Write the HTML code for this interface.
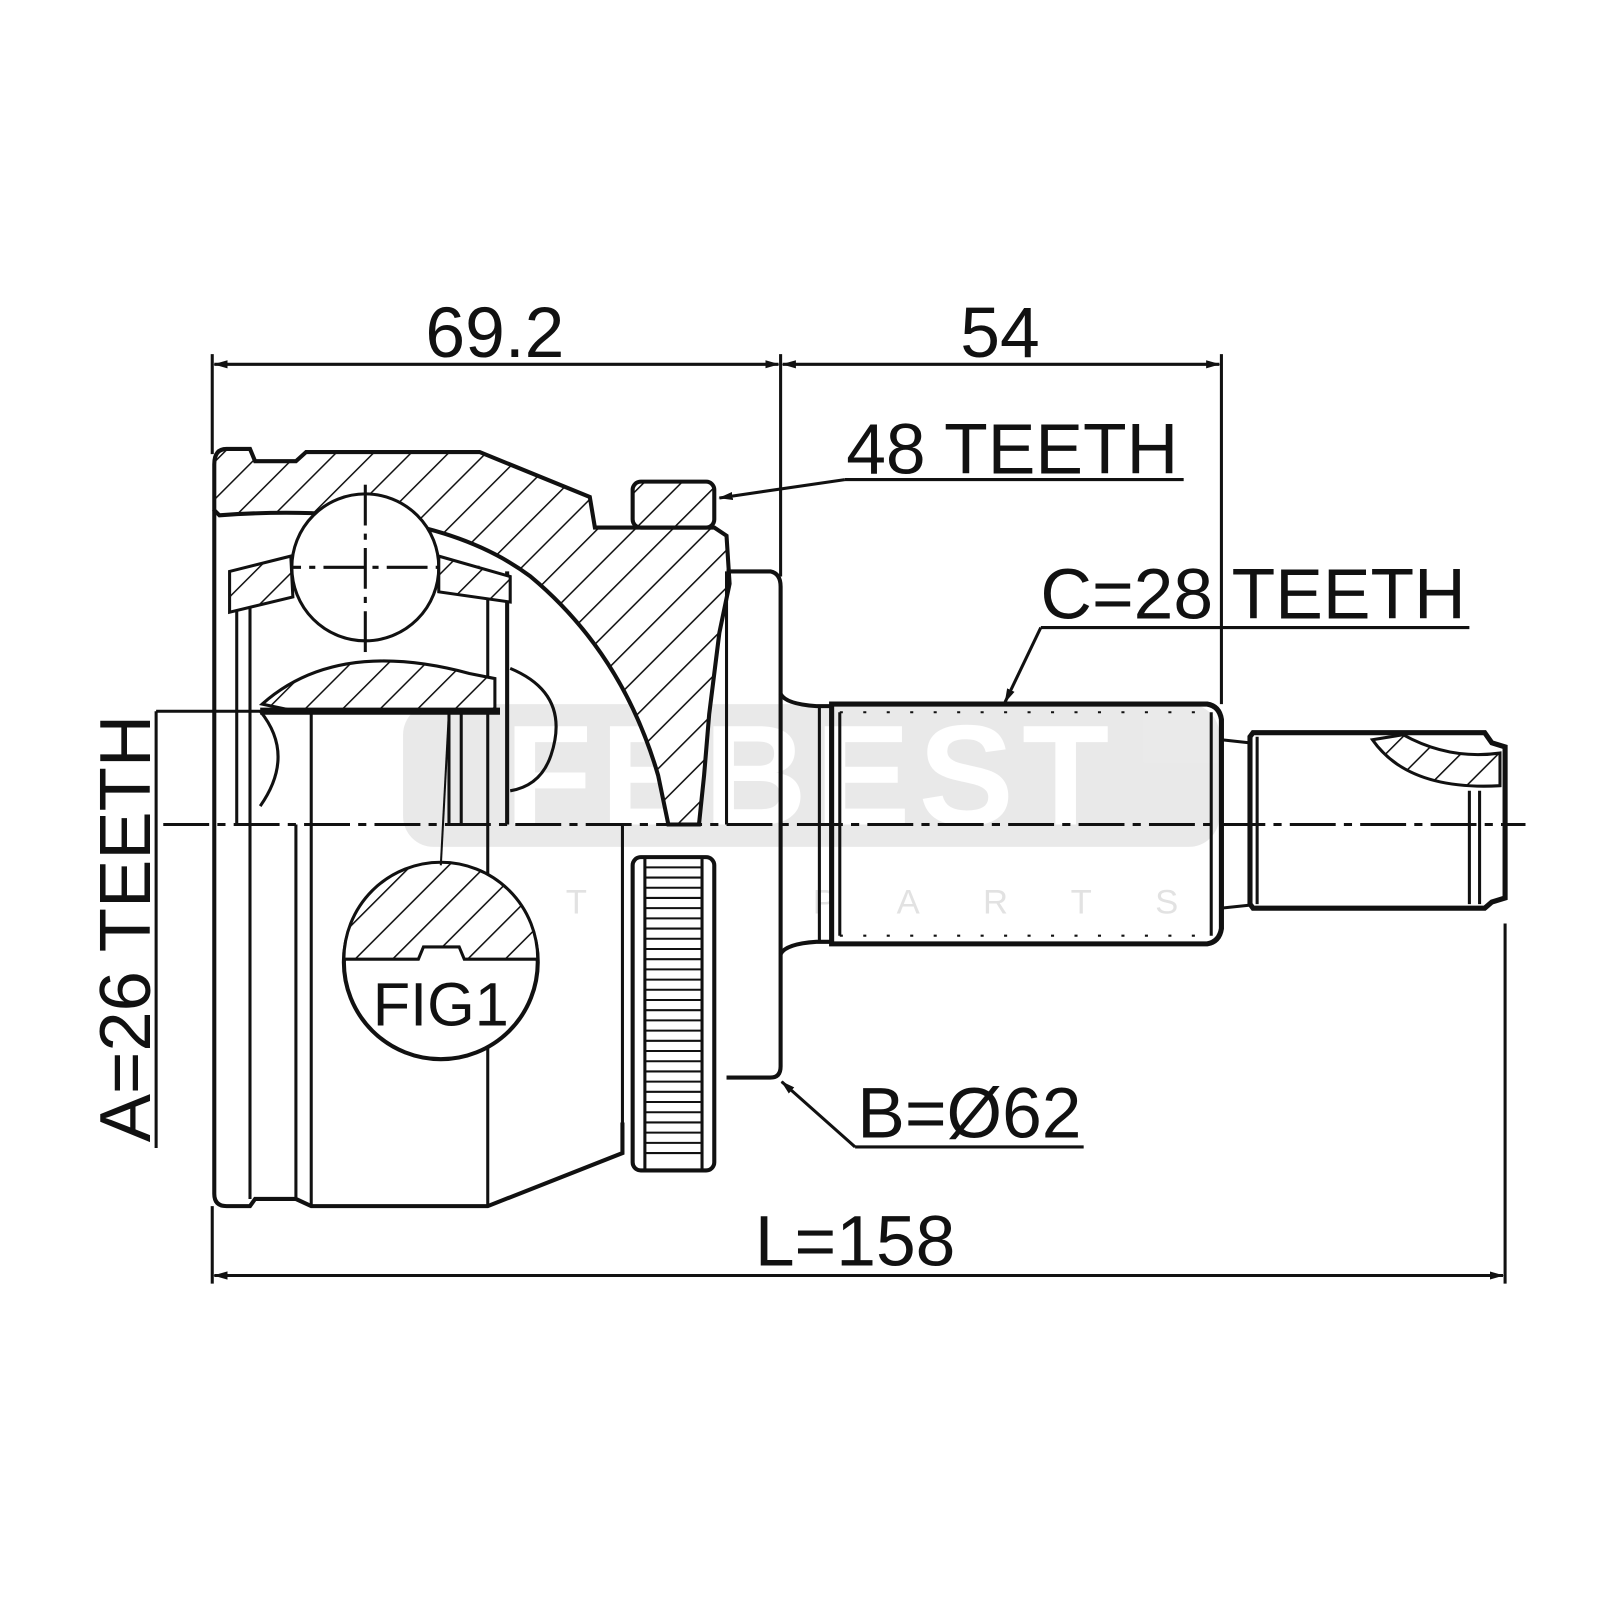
<!DOCTYPE html>
<html><head><meta charset="utf-8"><style>
html,body{margin:0;padding:0;background:#fff;}
svg{display:block;}
text{font-family:"Liberation Sans",Arial,sans-serif;fill:#111;}
</style></head><body>
<svg width="1600" height="1600" viewBox="0 0 1600 1600" xmlns="http://www.w3.org/2000/svg">
<defs>
<pattern id="h" patternUnits="userSpaceOnUse" width="26" height="26" patternTransform="rotate(45)">
<rect width="26" height="26" fill="#fff"/><line x1="0" y1="0" x2="0" y2="26" stroke="#111" stroke-width="3"/>
</pattern>
<marker id="a" markerWidth="14" markerHeight="10" refX="13" refY="5" orient="auto" markerUnits="userSpaceOnUse">
<path d="M0,1 L14,5 L0,9 Z" fill="#111"/></marker>
<marker id="as" markerWidth="14" markerHeight="10" refX="1" refY="5" orient="auto" markerUnits="userSpaceOnUse">
<path d="M14,1 L0,5 L14,9 Z" fill="#111"/></marker>
</defs>
<g transform="scale(1.0204)">
<!-- watermark -->
<g opacity="0.55">
<rect x="395" y="690" width="800" height="140" rx="30" fill="#d8d8d8"/>
<text x="795" y="808" font-size="140" font-weight="bold" text-anchor="middle" style="fill:#fff" letter-spacing="8">FEBEST</text>
<text x="800" y="895" font-size="34" text-anchor="middle" style="fill:#ccc" letter-spacing="62">AUTO PARTS</text>
</g>

<g stroke="#111" fill="none" stroke-width="3">
<line x1="208" y1="347" x2="208" y2="445"/>
<line x1="765" y1="347" x2="765" y2="565"/>
<line x1="1197" y1="347" x2="1197" y2="690"/>
<line x1="210" y1="357" x2="763" y2="357" marker-start="url(#as)" marker-end="url(#a)"/>
<line x1="767" y1="357" x2="1195" y2="357" marker-start="url(#as)" marker-end="url(#a)"/>
<line x1="208" y1="1182" x2="208" y2="1258"/>
<line x1="1475" y1="905" x2="1475" y2="1258"/>
<line x1="210" y1="1250" x2="1473" y2="1250" marker-start="url(#as)" marker-end="url(#a)"/>
<line x1="828" y1="470" x2="1160" y2="470"/>
<line x1="828" y1="470" x2="705" y2="488" marker-end="url(#a)"/>
<line x1="1020" y1="615" x2="1440" y2="615"/>
<line x1="1020" y1="615" x2="985" y2="688" marker-end="url(#a)"/>
<line x1="838" y1="1124" x2="1062" y2="1124"/>
<line x1="838" y1="1124" x2="766" y2="1060" marker-end="url(#a)"/>
<line x1="153" y1="697" x2="153" y2="1125"/>
<line x1="153" y1="697" x2="440" y2="697"/>

<path d="M210,500 L210,455 Q210,440 222,440 L245,440 L250,452 L290,452 L300,443 L470,443 L578,487 L583,517 L700,517 L712,525 L715,572 L705,620 L695,700 L690,760 L685,808 L655,808 L645,760 Q610,640 520,565 Q420,490 215,505 Z" fill="url(#h)" stroke-width="4"/>
<rect x="620" y="472" width="80" height="45" rx="8" fill="url(#h)" stroke-width="4"/>
<path d="M712,560 L755,560 Q765,562 765,575 L765,1045 Q765,1056 755,1056 L712,1056" stroke-width="4"/>
<line x1="712" y1="560" x2="712" y2="808"/>
<path d="M210,500 L210,1170 Q210,1182 222,1182 L245,1182 L250,1175 L290,1175 L305,1182 L478,1182 L610,1130 L610,1100" stroke-width="4"/>
<line x1="232" y1="590" x2="232" y2="808"/>
<line x1="245" y1="590" x2="245" y2="808"/>
<line x1="245" y1="808" x2="245" y2="1175"/>
<line x1="290" y1="808" x2="290" y2="1175"/>
<line x1="305" y1="697" x2="305" y2="1182"/>
<line x1="478" y1="697" x2="478" y2="1182"/>
<line x1="478" y1="560" x2="478" y2="697"/>
<line x1="497" y1="560" x2="497" y2="808" stroke-width="4"/>
<line x1="440" y1="697" x2="440" y2="808"/>
<line x1="452" y1="697" x2="452" y2="808"/>
<line x1="610" y1="808" x2="610" y2="1100"/>
<circle cx="358" cy="556" r="72" fill="#fff"/>
<line x1="358" y1="475" x2="358" y2="640" stroke-dasharray="40,8,6,8"/>
<line x1="255" y1="556" x2="470" y2="556" stroke-dasharray="40,8,6,8"/>
<path d="M225,560 L285,545 L287,585 L225,600 Z" fill="url(#h)"/>
<path d="M430,545 L500,565 L500,590 L430,580 Z" fill="url(#h)"/>
<path d="M257,690 Q330,625 460,660 L485,665 L485,697 L290,697 Z" fill="url(#h)"/>
<line x1="255" y1="697" x2="490" y2="697" stroke-width="7"/>
<path d="M255,697 Q290,740 255,790"/>
<path d="M500,655 Q560,680 540,740 Q530,770 500,775"/>
<rect x="620" y="840" width="80" height="307" rx="8" fill="#fff" stroke-width="4"/>
<line x1="632" y1="840" x2="632" y2="1147"/>
<line x1="688" y1="840" x2="688" y2="1147"/>
<path d="M632,850 H688 M632,860 H688 M632,870 H688 M632,880 H688 M632,890 H688 M632,900 H688 M632,910 H688 M632,920 H688 M632,930 H688 M632,940 H688 M632,950 H688 M632,960 H688 M632,970 H688 M632,980 H688 M632,990 H688 M632,1000 H688 M632,1010 H688 M632,1020 H688 M632,1030 H688 M632,1040 H688 M632,1050 H688 M632,1060 H688 M632,1070 H688 M632,1080 H688 M632,1090 H688 M632,1100 H688 M632,1110 H688 M632,1120 H688 M632,1130 H688" stroke-width="2"/>
<path d="M765,680 Q770,690 800,692 L815,692 M765,935 Q770,925 800,923 L815,923" stroke-width="4"/>
<line x1="803" y1="692" x2="803" y2="923"/>
<line x1="823" y1="698" x2="823" y2="917"/>
<path d="M815,690 L1183,690 Q1195,692 1197,705 L1197,910 Q1195,923 1183,925 L815,925 Z" stroke-width="5"/>
<line x1="1187" y1="698" x2="1187" y2="917"/>
<line x1="823" y1="698" x2="1187" y2="698" stroke-width="2" stroke-dasharray="3,20"/>
<line x1="823" y1="917" x2="1187" y2="917" stroke-width="2" stroke-dasharray="3,20"/>
<path d="M1197,725 L1225,728 M1197,890 L1225,887" stroke-width="3"/>
<path d="M1225,722 L1228,718 L1455,718 L1462,728 L1475,732 L1475,880 L1462,884 L1455,890 L1228,890 L1225,886 Z" stroke-width="5"/>
<line x1="1232" y1="722" x2="1232" y2="886"/>
<line x1="1440" y1="775" x2="1440" y2="886"/>
<line x1="1450" y1="775" x2="1450" y2="886"/>
<path d="M1345,725 Q1380,775 1470,770 L1470,738 Q1420,745 1375,720 Z" fill="url(#h)"/>
<line x1="160" y1="808" x2="1495" y2="808" stroke-width="3" stroke-dasharray="45,8,8,8"/>
<circle cx="432" cy="943" r="95" fill="#fff" stroke-width="4"/>
<path d="M337,940 A95,95 0 0 1 527,940 L455,940 L450,928 L415,928 L410,940 Z" fill="url(#h)" stroke-width="3"/>
<line x1="432" y1="848" x2="440" y2="697" stroke-width="2"/>
</g>

<text x="485" y="350" font-size="70" text-anchor="middle">69.2</text>
<text x="980" y="350" font-size="70" text-anchor="middle">54</text>
<text x="992" y="464" font-size="70" text-anchor="middle">48 TEETH</text>
<text x="1228" y="606" font-size="70" text-anchor="middle">C=28 TEETH</text>
<text x="950" y="1115" font-size="70" text-anchor="middle">B=Ø62</text>
<text x="838" y="1240" font-size="70" text-anchor="middle">L=158</text>
<text x="432" y="1005" font-size="60" text-anchor="middle">FIG1</text>
<text transform="translate(147,910) rotate(-90)" font-size="71" text-anchor="middle">A=26 TEETH</text>
</g>
</svg>
</body></html>
